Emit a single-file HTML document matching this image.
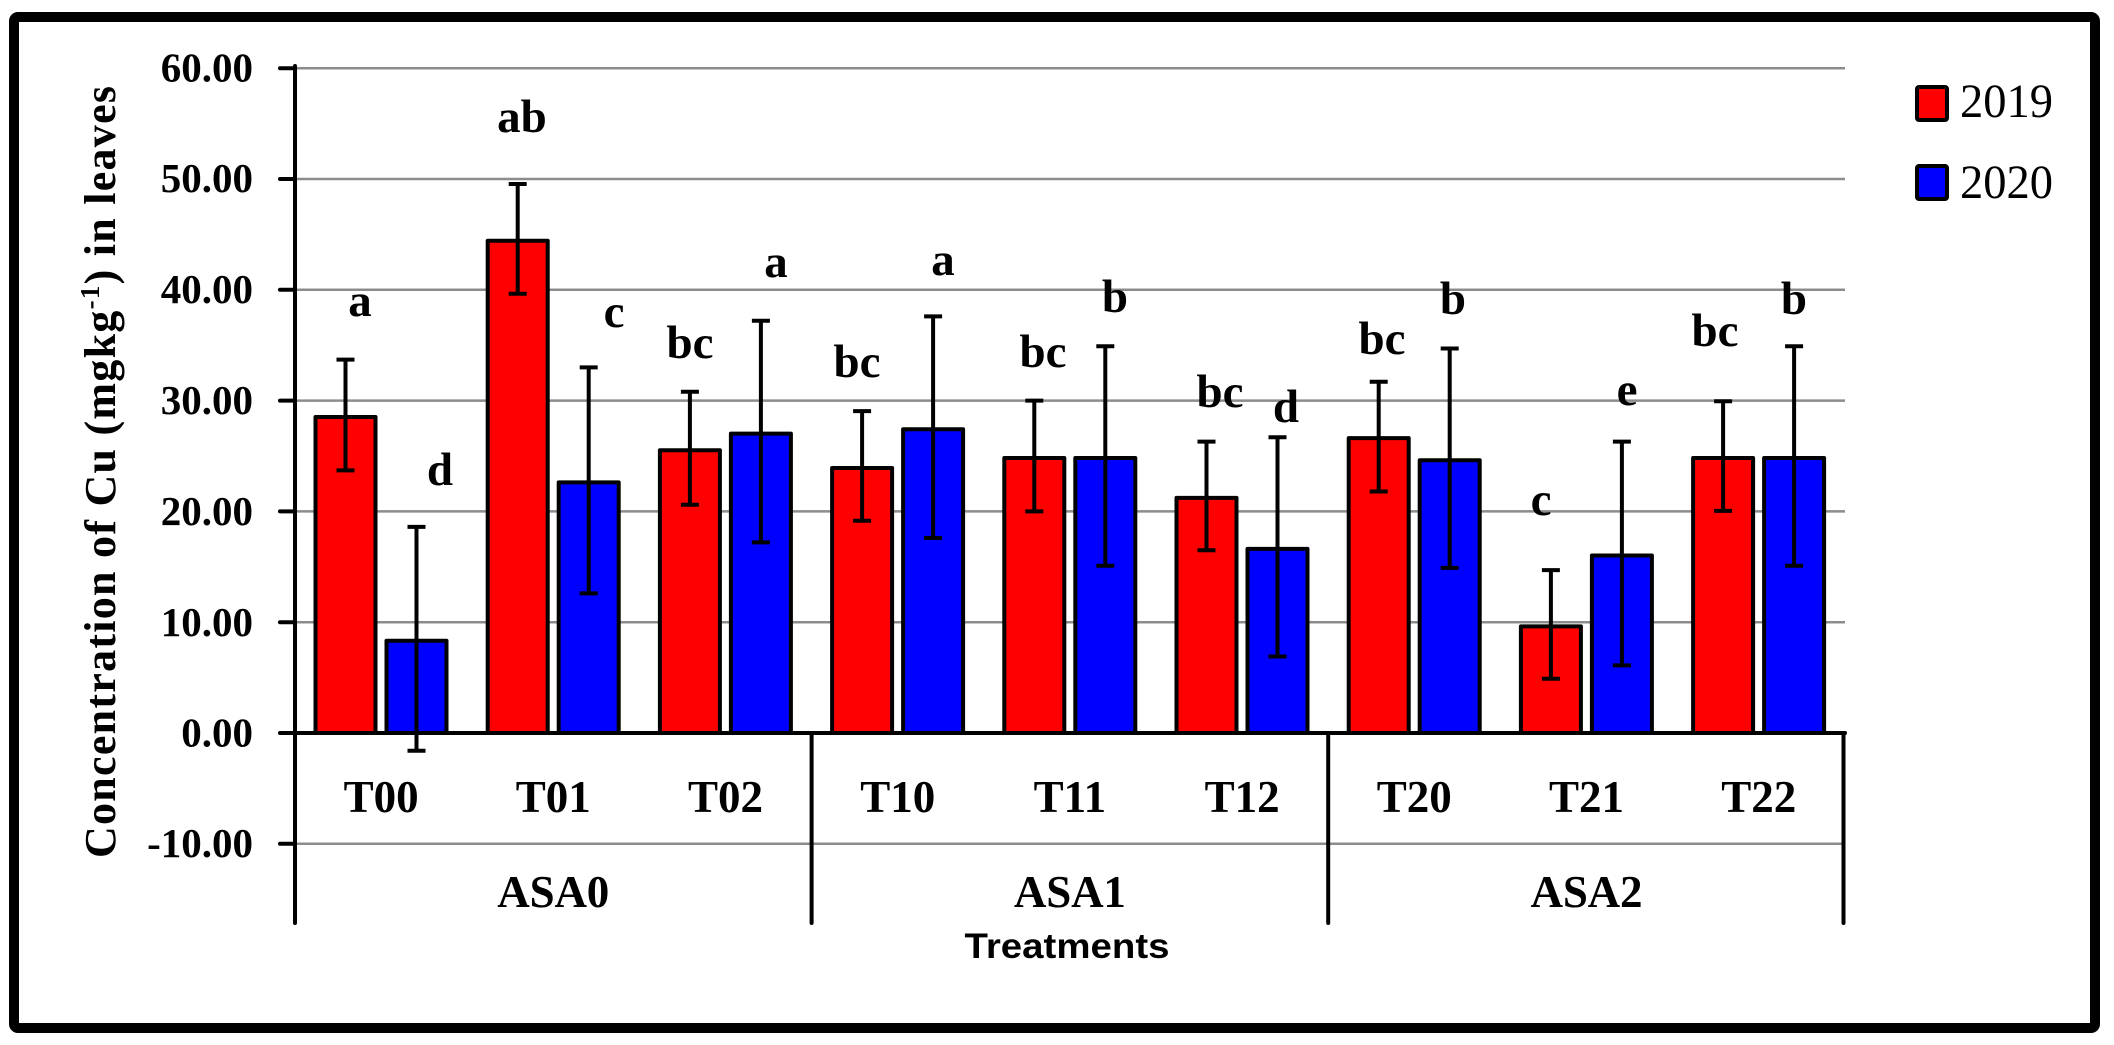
<!DOCTYPE html>
<html>
<head>
<meta charset="utf-8">
<style>
html,body{margin:0;padding:0;background:#fff;}
svg{display:block;}
</style>
</head>
<body>
<svg width="2114" height="1045" viewBox="0 0 2114 1045" xmlns="http://www.w3.org/2000/svg">
<rect x="0" y="0" width="2114" height="1045" fill="#fff"/>
<!-- outer frame -->
<rect x="14" y="17" width="2081" height="1011" rx="4" fill="none" stroke="#000" stroke-width="10"/>

<!-- gridlines -->
<g stroke="#8c8c8c" stroke-width="2.5">
<line x1="295" y1="68.2" x2="1845" y2="68.2"/>
<line x1="295" y1="179" x2="1845" y2="179"/>
<line x1="295" y1="289.8" x2="1845" y2="289.8"/>
<line x1="295" y1="400.6" x2="1845" y2="400.6"/>
<line x1="295" y1="511.4" x2="1845" y2="511.4"/>
<line x1="295" y1="622.2" x2="1845" y2="622.2"/>
<line x1="295" y1="843.8" x2="1845" y2="843.8"/>
</g>

<!-- bars -->
<g stroke="#000" stroke-width="4" stroke-linejoin="round">
<!-- T00 -->
<rect x="315.5" y="417" width="60" height="316" fill="#ff0000"/>
<rect x="386.5" y="640.8" width="60" height="92.2" fill="#0000ff"/>
<!-- T01 -->
<rect x="487.7" y="240.8" width="60" height="492.2" fill="#ff0000"/>
<rect x="558.7" y="482.4" width="60" height="250.6" fill="#0000ff"/>
<!-- T02 -->
<rect x="659.9" y="450.2" width="60" height="282.8" fill="#ff0000"/>
<rect x="730.9" y="433.6" width="60" height="299.4" fill="#0000ff"/>
<!-- T10 -->
<rect x="832.1" y="468" width="60" height="265" fill="#ff0000"/>
<rect x="903.1" y="429.2" width="60" height="303.8" fill="#0000ff"/>
<!-- T11 -->
<rect x="1004.3" y="458" width="60" height="275" fill="#ff0000"/>
<rect x="1075.3" y="458" width="60" height="275" fill="#0000ff"/>
<!-- T12 -->
<rect x="1176.5" y="497.9" width="60" height="235.1" fill="#ff0000"/>
<rect x="1247.5" y="548.9" width="60" height="184.1" fill="#0000ff"/>
<!-- T20 -->
<rect x="1348.7" y="438.1" width="60" height="294.9" fill="#ff0000"/>
<rect x="1419.7" y="460.2" width="60" height="272.8" fill="#0000ff"/>
<!-- T21 -->
<rect x="1520.9" y="626.4" width="60" height="106.6" fill="#ff0000"/>
<rect x="1591.9" y="555.5" width="60" height="177.5" fill="#0000ff"/>
<!-- T22 -->
<rect x="1693.1" y="458" width="60" height="275" fill="#ff0000"/>
<rect x="1764.1" y="458" width="60" height="275" fill="#0000ff"/>
</g>

<!-- error bars -->
<g stroke="#000" stroke-width="4" fill="none">
<path d="M345.5 359.6V470.4M336.5 359.6H354.5M336.5 470.4H354.5"/>
<path d="M416.5 526.9V750.7M407.5 526.9H425.5M407.5 750.7H425.5"/>
<path d="M517.7 184V293.7M508.7 184H526.7M508.7 293.7H526.7"/>
<path d="M588.7 367.4V593.4M579.7 367.4H597.7M579.7 593.4H597.7"/>
<path d="M689.9 391.7V504.8M680.9 391.7H698.9M680.9 504.8H698.9"/>
<path d="M760.9 320.8V542.4M751.9 320.8H769.9M751.9 542.4H769.9"/>
<path d="M862.1 411.1V520.8M853.1 411.1H871.1M853.1 520.8H871.1"/>
<path d="M933.1 316.4V538M924.1 316.4H942.1M924.1 538H942.1"/>
<path d="M1034.3 400.6V511.4M1025.3 400.6H1043.3M1025.3 511.4H1043.3"/>
<path d="M1105.3 346.3V565.7M1096.3 346.3H1114.3M1096.3 565.7H1114.3"/>
<path d="M1206.5 441.6V550.2M1197.5 441.6H1215.5M1197.5 550.2H1215.5"/>
<path d="M1277.5 437.2V656.5M1268.5 437.2H1286.5M1268.5 656.5H1286.5"/>
<path d="M1378.7 381.8V491.5M1369.7 381.8H1387.7M1369.7 491.5H1387.7"/>
<path d="M1449.7 348.5V567.9M1440.7 348.5H1458.7M1440.7 567.9H1458.7"/>
<path d="M1550.9 570.1V678.7M1541.9 570.1H1559.9M1541.9 678.7H1559.9"/>
<path d="M1621.9 441.6V665.4M1612.9 441.6H1630.9M1612.9 665.4H1630.9"/>
<path d="M1723.1 401.2V510.9M1714.1 401.2H1732.1M1714.1 510.9H1732.1"/>
<path d="M1794.1 346.3V565.7M1785.1 346.3H1803.1M1785.1 565.7H1803.1"/>
</g>

<!-- axes -->
<g stroke="#000" stroke-width="4" stroke-linecap="round">
<line x1="295" y1="66" x2="295" y2="923"/>
<line x1="280" y1="733" x2="1845" y2="733"/>
<line x1="811.6" y1="733" x2="811.6" y2="923"/>
<line x1="1328.2" y1="733" x2="1328.2" y2="923"/>
<line x1="1843.5" y1="733" x2="1843.5" y2="923"/>
<line x1="280" y1="68.2" x2="295" y2="68.2"/>
<line x1="280" y1="179" x2="295" y2="179"/>
<line x1="280" y1="289.8" x2="295" y2="289.8"/>
<line x1="280" y1="400.6" x2="295" y2="400.6"/>
<line x1="280" y1="511.4" x2="295" y2="511.4"/>
<line x1="280" y1="622.2" x2="295" y2="622.2"/>
<line x1="280" y1="843.8" x2="295" y2="843.8"/>
</g>

<!-- y tick labels -->
<g font-family="'Liberation Serif', serif" font-weight="bold" font-size="41" text-anchor="end" fill="#000">
<text x="253" y="81.5">60.00</text>
<text x="253" y="192">50.00</text>
<text x="253" y="303">40.00</text>
<text x="253" y="414">30.00</text>
<text x="253" y="525">20.00</text>
<text x="253" y="636">10.00</text>
<text x="253" y="746.5">0.00</text>
<text x="253" y="857">-10.00</text>
</g>

<!-- y axis title -->
<text transform="translate(115,472) rotate(-90)" text-anchor="middle" font-family="'Liberation Serif', serif" font-weight="bold" font-size="44" fill="#000" textLength="772" lengthAdjust="spacing">Concentration of Cu (mgkg<tspan font-size="27" dy="-16">-1</tspan><tspan dy="16">) in leaves</tspan></text>

<!-- category labels -->
<g font-family="'Liberation Serif', serif" font-weight="bold" font-size="45" text-anchor="middle" fill="#000">
<text x="381.1" y="812">T00</text>
<text x="553.3" y="812">T01</text>
<text x="725.5" y="812">T02</text>
<text x="897.7" y="812">T10</text>
<text x="1069.9" y="812">T11</text>
<text x="1242.1" y="812">T12</text>
<text x="1414.3" y="812">T20</text>
<text x="1586.5" y="812">T21</text>
<text x="1758.7" y="812">T22</text>
<text x="553.3" y="907" textLength="112" lengthAdjust="spacing">ASA0</text>
<text x="1069.9" y="907" textLength="112" lengthAdjust="spacing">ASA1</text>
<text x="1586.5" y="907" textLength="112" lengthAdjust="spacing">ASA2</text>
</g>

<text x="1067" y="958" text-anchor="middle" font-family="'Liberation Sans', sans-serif" font-weight="bold" font-size="35" textLength="205" lengthAdjust="spacingAndGlyphs" fill="#000">Treatments</text>

<!-- significance letters -->
<g font-family="'Liberation Serif', serif" font-weight="bold" font-size="47" text-anchor="middle" fill="#000">
<text x="360" y="316">a</text>
<text x="440" y="485">d</text>
<text x="522" y="132">ab</text>
<text x="614" y="327">c</text>
<text x="690" y="358">bc</text>
<text x="776" y="277">a</text>
<text x="857" y="377">bc</text>
<text x="943" y="275">a</text>
<text x="1043" y="367">bc</text>
<text x="1115" y="312">b</text>
<text x="1220" y="407">bc</text>
<text x="1286" y="422">d</text>
<text x="1382" y="354">bc</text>
<text x="1453" y="314">b</text>
<text x="1541" y="515">c</text>
<text x="1627" y="405">e</text>
<text x="1715" y="346">bc</text>
<text x="1794" y="314">b</text>
</g>

<!-- legend -->
<rect x="1917" y="87" width="30" height="33" rx="2" fill="#ff0000" stroke="#000" stroke-width="4"/>
<rect x="1917" y="166" width="30" height="33" rx="2" fill="#0000ff" stroke="#000" stroke-width="4"/>
<g font-family="'Liberation Serif', serif" font-size="48" fill="#000">
<text x="1960" y="117" textLength="93" lengthAdjust="spacingAndGlyphs">2019</text>
<text x="1960" y="198" textLength="93" lengthAdjust="spacingAndGlyphs">2020</text>
</g>
</svg>
</body>
</html>
